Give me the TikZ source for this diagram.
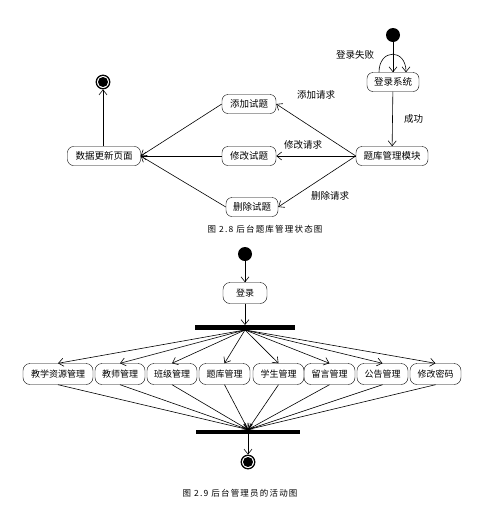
\documentclass[tikz,border=0pt]{standalone}
\usepackage{fontspec}
\setmainfont{Noto Sans CJK SC}
\newfontfamily\capfont[LetterSpace=14]{Noto Sans CJK SC}
\usetikzlibrary{arrows.meta}
\begin{document}
\begin{tikzpicture}[x=1pt,y=-1pt,
  state/.style={draw,rounded corners=6pt,minimum height=19pt,inner sep=2pt,font=\fontsize{9.5}{10}\selectfont},
  act/.style={draw,rounded corners=7pt,minimum height=21pt,inner sep=1pt,font=\fontsize{9}{10}\selectfont},
  lbl/.style={font=\fontsize{9.5}{10}\selectfont},
  captxt/.style={font=\capfont\fontsize{8.5}{10}\selectfont},
  arr/.style={-{Straight Barb[length=5pt,width=8pt]},line width=0.6pt},
  initdot/.style={circle,fill=black,minimum size=14pt,inner sep=0},
  finaldot/.style={circle,draw,line width=0.8pt,fill=black,minimum size=14pt,inner sep=0,
    path picture={\fill[white] (path picture bounding box.center) circle (6pt);
                  \fill[black] (path picture bounding box.center) circle (5pt);}},
  bar/.style={fill=black,inner sep=0,minimum height=4.5pt}]
\useasboundingbox (0,0) rectangle (490,523);

% ---------- Figure 2.8 ----------
\node[initdot] (s0) at (393,35) {};
\node[state,minimum width=52pt] (login) at (393,82) {登录系统};
\node[state,minimum width=72pt] (bank) at (392,156) {题库管理模块};
\node[state,minimum width=54pt] (add) at (249,104) {添加试题};
\node[state,minimum width=54pt] (mod) at (249,156) {修改试题};
\node[state,minimum width=52pt] (del) at (252,207) {删除试题};
\node[state,minimum width=73pt] (upd) at (104,156) {数据更新页面};
\node[finaldot] (s1) at (103,82) {};

\draw[arr] (s0) -- (login);
\draw[arr] ([xshift=-14pt]login.north) .. controls +(0,-24) and +(0,-24) .. ([xshift=13pt]login.north);
\node[lbl] (lfail) at (355,55) {登录失败};
\draw[arr] (login) -- (bank) node[lbl,midway,right=8pt] (lsucc) {成功};
\draw[arr] (bank.west) -- (add.east);
\draw[arr] (bank.west) -- (mod.east);
\draw[arr] (bank.west) -- (del.east);
\node[lbl] (ladd) at (316,95) {添加请求};
\node[lbl] (lmod) at (303,145) {修改请求};
\node[lbl] (ldel) at (330,196) {删除请求};
\draw[arr] (add.west) -- (upd.east);
\draw[arr] (mod.west) -- (upd.east);
\draw[arr] (del.west) -- (upd.east);
\draw[arr] (upd.north -| s1) -- (s1);
\node[captxt] (cap1) at (265,229) {图 2.8 后台题库管理状态图};

% ---------- Figure 2.9 ----------
\node[initdot] (a0) at (245,254) {};
\node[act,minimum width=44pt] (alogin) at (245,293) {登录};
\node[bar,minimum width=100pt] (fork) at (245,327.5) {};
\node[act,minimum width=70pt] (b1) at (58,374) {教学资源管理};
\node[act,minimum width=50pt] (b2) at (120,374) {教师管理};
\node[act,minimum width=50pt] (b3) at (172,374) {班级管理};
\node[act,minimum width=51pt] (b4) at (224.5,374) {题库管理};
\node[act,minimum width=51pt] (b5) at (278.5,374) {学生管理};
\node[act,minimum width=51pt] (b6) at (329.5,374) {留言管理};
\node[act,minimum width=51pt] (b7) at (382.5,374) {公告管理};
\node[act,minimum width=51pt] (b8) at (435.5,374) {修改密码};
\node[bar,minimum width=104pt] (join) at (248,432) {};
\node[finaldot] (a1) at (248,462) {};

\draw[arr] (a0) -- (alogin);
\draw[arr] (alogin) -- (alogin.south |- fork.north);
\foreach \b in {b1,b2,b3,b4,b5,b6,b7,b8}{
  \draw[arr] (fork.south) -- (\b.north);
  \draw[arr] (\b.south) -- (join.north);
}
\draw[arr] (join) -- (a1);
\node[captxt] (cap2) at (240,493) {图 2.9 后台管理员的活动图};
\end{tikzpicture}
\end{document}
